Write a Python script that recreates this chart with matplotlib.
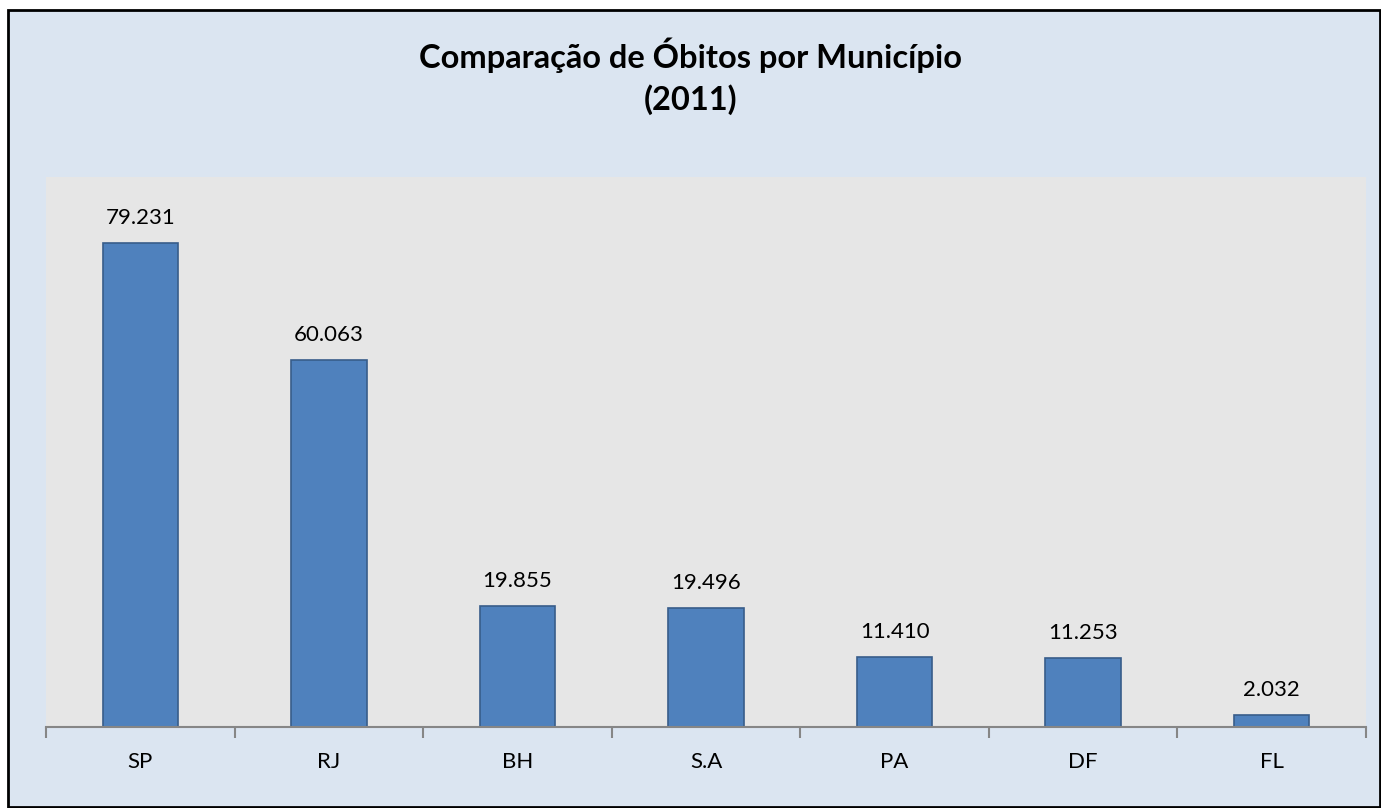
import matplotlib.pyplot as plt
from matplotlib.patches import Rectangle
import numpy as np

# dados
municipios = ["SP", "RJ", "BH", "S.A", "PA", "DF", "FL"]
obitos = [79231, 60063, 19855, 19496, 11410, 11253, 2032]
rotulos = ["79.231", "60.063", "19.855", "19.496", "11.410", "11.253", "2.032"]

plt.rcParams['font.family'] = ['Lato', 'DejaVu Sans']

fig = plt.figure(figsize=(13.81, 8.08), dpi=100)
fig.patch.set_facecolor("white")

# fundo azul claro com borda preta
fig.patches.append(Rectangle((8 / 1381, 1 / 808), 1372 / 1381, (798 - 1) / 808,
                             transform=fig.transFigure, facecolor="#DBE5F1",
                             edgecolor="black", linewidth=2, zorder=-5))

ax = fig.add_axes([46 / 1381, (808 - 727) / 808, 1320 / 1381, 550 / 808])
ax.set_zorder(1)
ax.set_facecolor("#E6E6E6")

x = np.arange(len(municipios))
ax.bar(x, obitos, width=0.40, color="#4F81BD", edgecolor="#385D8A", linewidth=1.2, zorder=2)

for xi, v, r in zip(x, obitos, rotulos):
    ax.annotate(r, (xi, v), xytext=(0, 15), textcoords="offset pixels",
                ha="center", va="bottom", fontsize=16)

ax.set_xlim(-0.5, len(municipios) - 0.5)
ax.set_ylim(0, 90000)
ax.set_yticks([])

for s in ["top", "right", "left"]:
    ax.spines[s].set_visible(False)
ax.spines["bottom"].set_color("#868686")
ax.spines["bottom"].set_linewidth(1.5)

ax.set_xticks(x)
ax.set_xticklabels(municipios, fontsize=16)
ax.tick_params(axis="x", length=0, pad=18)
ax.set_xticks(np.arange(len(municipios) + 1) - 0.5, minor=True)
ax.tick_params(axis="x", which="minor", length=8, width=1.5, color="#868686", direction="out")

fig.text(0.5, 1 - 55 / 808, "Comparação de Óbitos por Município", ha="center", va="center",
         fontsize=23.5, fontweight="bold")
fig.text(0.5, 1 - 100 / 808, "(2011)", ha="center", va="center",
         fontsize=23.5, fontweight="bold")

plt.savefig("out.png", dpi=100, facecolor=fig.get_facecolor())
